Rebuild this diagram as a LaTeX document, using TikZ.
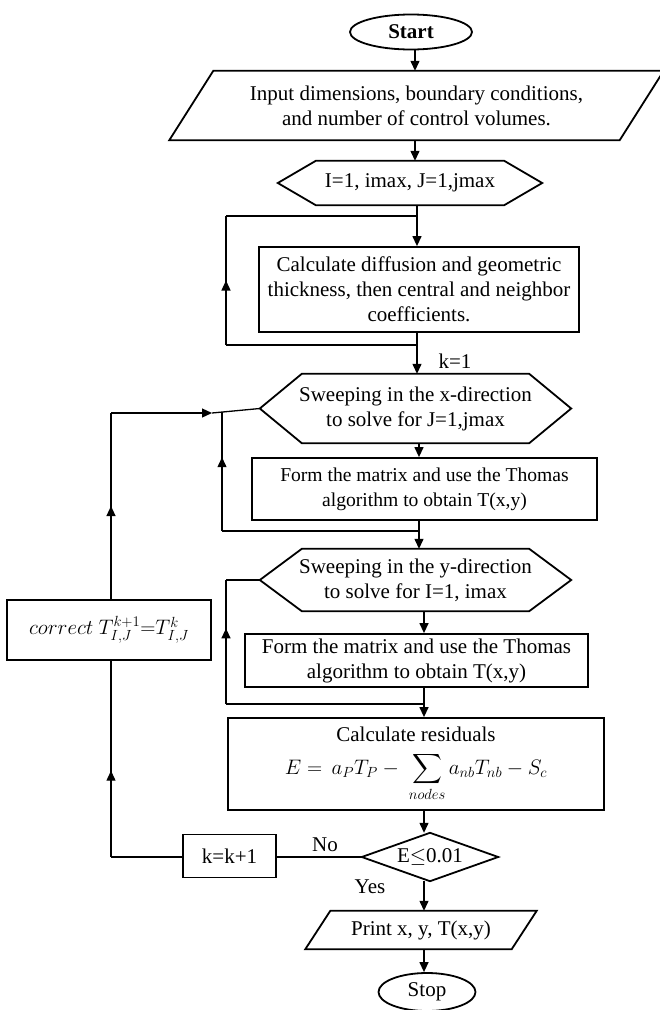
\RequirePackage{fix-cm}
\documentclass[tikz,border=0pt]{standalone}
\usepackage{amsmath}
\usepackage{fontspec}
\setmainfont{Liberation Serif}
\usetikzlibrary{arrows.meta,shapes.geometric,decorations.markings}
\newcommand{\fsz}{\fontsize{21}{25}\selectfont}
\newcommand{\fsm}{\fontsize{19.6}{25}\selectfont}
\tikzset{
  shp/.style={line width=1.8pt, line join=miter},
  box/.style={draw, line width=1.8pt, rectangle, align=center, inner sep=0pt, font=\fsz},
  bare/.style={rectangle, align=center, inner sep=0pt, font=\fsz},
  ell/.style={draw, ellipse, line width=1.8pt, inner sep=0pt, font=\fsz},
  lbl/.style={inner sep=0pt, font=\fsz},
  line/.style={line width=1.3pt},
  arr/.style={line width=1.3pt, -{Triangle[length=10pt,width=9pt]}},
  midarr/.style={postaction={decorate, decoration={markings, mark=at position #1 with {\arrow{Triangle[length=10pt,width=9pt]}}}}}
}
\begin{document}
\begin{tikzpicture}[x=1pt,y=-1pt]
\useasboundingbox (0,0) rectangle (660,1010);
% columns
\coordinate (cA) at (415,0);
\coordinate (cB) at (417,0);
\coordinate (cC) at (419,0);
\coordinate (cD) at (424,0);

% Start
\node[ell, font=\bfseries\fsz, minimum width=122, minimum height=35] (start) at (411,32) {Start};

% Input parallelogram
\node[bare, minimum width=450, minimum height=69] (inp) at (416.5,105.5) {Input dimensions, boundary conditions,\\and number of control volumes.};
\draw[shp] ([xshift=22]inp.north west) -- ([xshift=22]inp.north east) -- ([xshift=-22]inp.south east) -- ([xshift=-22]inp.south west) -- cycle;

% hexagon I=1
\node[bare, minimum width=264, minimum height=44] (h1) at (410,183) {I=1, imax, J=1,jmax};
\draw[shp] (h1.west) -- ([xshift=38]h1.north west) -- ([xshift=-38]h1.north east) -- (h1.east) -- ([xshift=-38]h1.south east) -- ([xshift=38]h1.south west) -- cycle;

% Calculate box
\node[box, minimum width=320, minimum height=85] (calc) at (419,289.5) {Calculate diffusion and geometric\\thickness, then central and neighbor\\coefficients.};

% x-direction hexagon
\node[bare, minimum width=311, minimum height=69] (xhex) at (415.5,408.5) {Sweeping in the x-direction\\to solve for J=1,jmax};
\draw[shp] (xhex.west) -- ([xshift=42]xhex.north west) -- ([xshift=-42]xhex.north east) -- (xhex.east) -- ([xshift=-42]xhex.south east) -- ([xshift=42]xhex.south west) -- cycle;

% form matrix 1
\node[box, font=\fsm, minimum width=345, minimum height=62] (form1) at (424.5,489) {Form the matrix and use the Thomas\\algorithm to obtain T(x,y)};

% y-direction hexagon
\node[bare, minimum width=311, minimum height=62] (yhex) at (415.5,580) {Sweeping in the y-direction\\to solve for I=1, imax};
\draw[shp] (yhex.west) -- ([xshift=42]yhex.north west) -- ([xshift=-42]yhex.north east) -- (yhex.east) -- ([xshift=-42]yhex.south east) -- ([xshift=42]yhex.south west) -- cycle;

% form matrix 2
\node[box, minimum width=343, minimum height=53] (form2) at (416.5,660.5) {Form the matrix and use the Thomas\\algorithm to obtain T(x,y)};

% residuals
\node[box, minimum width=376, minimum height=92] (res) at (416,764) {Calculate residuals\\[8pt]$\displaystyle E=\,a_PT_P-\ \sum_{nodes}a_{nb}T_{nb}-S_c$};

% correct box
\node[box, minimum width=204, minimum height=60] (corr) at (109,630) {$correct\ T_{I,J}^{k+1}{=}T_{I,J}^{k}$};

% k=k+1
\node[box, minimum width=93, minimum height=43] (kk) at (229.5,856) {k=k+1};

% diamond
\node[bare, minimum width=136, minimum height=48] (dia) at (430,857) {E$\leq$0.01};
\draw[shp] (dia.west) -- (dia.north) -- (dia.east) -- (dia.south) -- cycle;

% print
\node[bare, minimum width=206, minimum height=38] (print) at (421,930) {Print x, y, T(x,y)};
\draw[shp] ([xshift=12.5]print.north west) -- ([xshift=12.5]print.north east) -- ([xshift=-12.5]print.south east) -- ([xshift=-12.5]print.south west) -- cycle;

% Stop
\node[ell, minimum width=97, minimum height=38] (stop) at (427,992) {Stop};

% labels
\node[lbl] (k1) at (455,361) {k=1};
\node[lbl] (no) at (325,845) {No};
\node[lbl] (yes) at (370,887) {Yes};

% main arrows
\draw[arr] (start.south -| cA) -- (inp.north -| cA);
\draw[arr] (inp.south -| cA) -- (h1.north -| cA);
\draw[arr] (h1.south -| cB) -- (calc.north -| cB);
\draw[arr] (calc.south -| cB) -- (xhex.north -| cB);
\draw[arr] (xhex.south -| cC) -- (form1.north -| cC);
\draw[arr] (form1.south -| cC) -- (yhex.north -| cC);
\draw[arr] (yhex.south -| cD) -- (form2.north -| cD);
\draw[arr] (form2.south -| cD) -- (res.north -| cD);
\draw[arr] (res.south -| cD) -- (dia.north -| cD);
\draw[arr] (dia.south -| cD) -- (print.north -| cD);
\draw[arr] (print.south -| cD) -- (stop.north -| cD);

% loop 0 around calculate box
\coordinate (l0t) at (226,216);
\coordinate (l0b) at (226,345);
\draw[line] (l0b -| cB) -- (l0b);
\draw[line, midarr=0.5] (l0b) -- (l0t);
\draw[line] (l0t) -- (l0t -| cB);

% loop 1 around form1
\coordinate (l1t) at (222,412);
\coordinate (l1b) at (222,531);
\draw[line] (l1b -| cC) -- (l1b);
\draw[line, midarr=0.62] (l1b) -- (l1t);

% loop 2 around form2
\coordinate (l2t) at (226,580);
\coordinate (l2b) at (226,704);
\draw[line] (l2b -| cD) -- (l2b);
\draw[line, midarr=0.61] (l2b) -- (l2t);
\draw[line] (l2t) -- (yhex.west);

% outer loop
\coordinate (oc) at (111,857);
\coordinate (ot) at (111,413);
\coordinate (jn) at (212,413);
\draw[line] (dia.west) -- (dia.west -| kk.east);
\draw[line] (kk.west |- oc) -- (oc);
\draw[line, midarr=0.44] (oc) -- (corr.south -| oc);
\draw[line, midarr=0.5] (corr.north -| oc) -- (ot);
\draw[arr] (ot) -- (jn);
\draw[line] (jn) -- (xhex.west);
\end{tikzpicture}
\end{document}
